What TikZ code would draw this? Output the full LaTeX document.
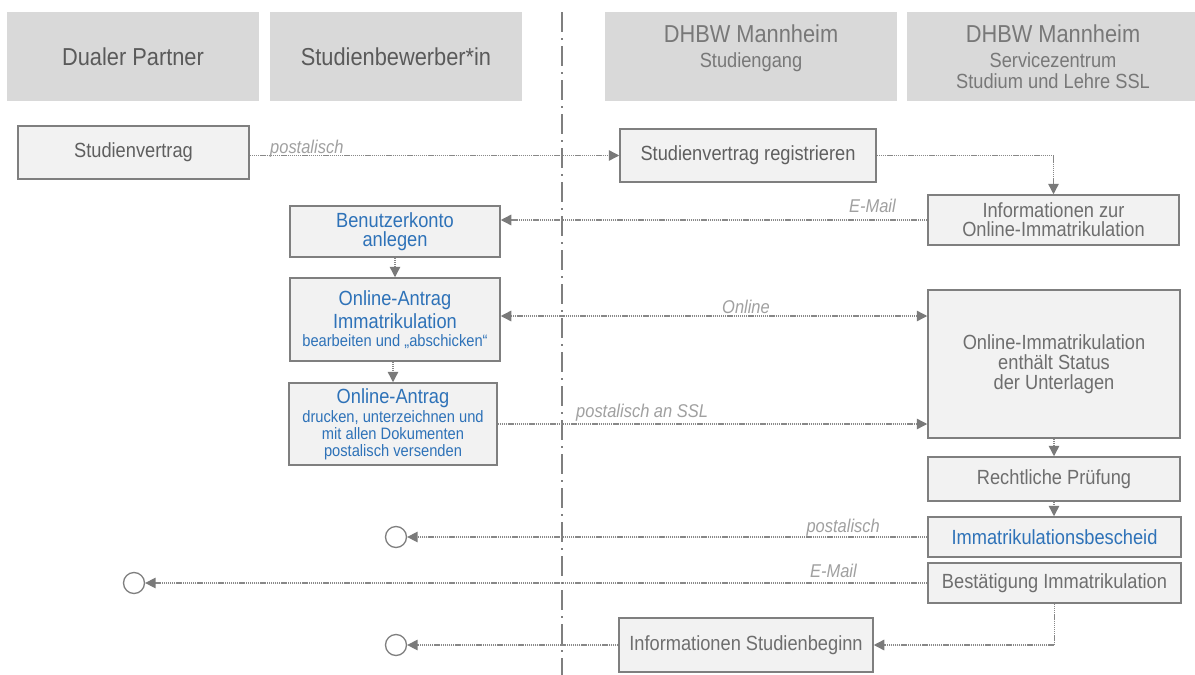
\documentclass[tikz,border=0pt]{standalone}
\usepackage{fontspec}
\setmainfont{Liberation Sans}[FakeStretch=0.89]
\usetikzlibrary{arrows.meta}
\definecolor{hdrfill}{HTML}{D9D9D9}
\definecolor{hdrtxt}{HTML}{5A5A5A}
\definecolor{hdrtxtb}{HTML}{787878}
\definecolor{boxfill}{HTML}{F2F2F2}
\definecolor{boxline}{HTML}{7F7F7F}
\definecolor{boxtxt}{HTML}{5F5F5F}
\definecolor{boxtxtb}{HTML}{6E6E6E}
\definecolor{bluetxt}{HTML}{2E72B8}
\definecolor{lbltxt}{HTML}{A0A0A0}
\definecolor{flowcol}{HTML}{888888}
\definecolor{tipcol}{HTML}{7A7A7A}
\newcommand{\fsz}[2]{\fontsize{#1}{#2}\selectfont}
\begin{document}
\begin{tikzpicture}[x=1pt,y=-1pt,
 hdr/.style={fill=hdrfill, inner sep=0pt, align=center, text=hdrtxt, minimum height=89pt},
 proc/.style={draw=boxline, line width=1.5pt, fill=boxfill, inner sep=0pt, align=center, text=boxtxt, font=\fsz{20.5}{19}},
 tip/.tip={Triangle[length=10.5pt,width=10.5pt,color=tipcol]},
 flow/.style={draw=flowcol, line width=1.4pt, dash pattern=on 1.3pt off 0.8pt, -tip},
 lbl/.style={font=\fsz{18.5}{20}\itshape, text=lbltxt, inner sep=0pt},
 endc/.style={circle, draw=boxline, line width=1.3pt, fill=white, minimum size=21pt, inner sep=0pt},
 divider/.style={draw=boxline, line width=2pt, dash pattern=on 20pt off 6pt on 2pt off 6pt}
]
\fill[white] (0,0) rectangle (1195,675);
\useasboundingbox (0,0) rectangle (1195,675);

% headers
\node[hdr, minimum width=252pt, font=\fsz{24.5}{28}] (hdp) at (133,56.5) {Dualer Partner};
\node[hdr, minimum width=252pt, font=\fsz{24.5}{28}] (hsb) at (396,56.5) {Studienbewerber*in};
\node[hdr, text=hdrtxtb, minimum width=292pt, font=\fsz{20.5}{21}] (hsg) at (751,56.5)
  {{\fsz{24.5}{28}DHBW Mannheim}\\[3.5pt]Studiengang\\ \mbox{}};
\node[hdr, text=hdrtxtb, minimum width=292pt, font=\fsz{20.5}{21}] (hssl) at (1053,56.5)
  {{\fsz{24.5}{28}DHBW Mannheim}\\[3.5pt]Servicezentrum\\Studium und Lehre SSL};

% divider
\coordinate (dtop) at (562,12);
\coordinate (dbot) at (562,675);
\draw[divider] (dtop) -- (dbot);

% boxes
\node[proc, minimum width=231pt, minimum height=53pt] (sv) at (133.5,152.5) {Studienvertrag};
\node[proc, minimum width=256pt, minimum height=53pt] (svr) at (748,155.5) {Studienvertrag registrieren};
\node[proc, text=boxtxtb, minimum width=251pt, minimum height=50pt] (info) at (1053.5,220) {Informationen zur\\Online-Immatrikulation};
\node[proc, text=bluetxt, minimum width=210pt, minimum height=51pt] (bk) at (395,231.5) {Benutzerkonto\\anlegen};
\node[proc, text=bluetxt, minimum width=210pt, minimum height=83pt, font=\fsz{20.5}{23}] (oa1) at (395,319.5)
  {Online-Antrag\\Immatrikulation\\[-5.4pt]{\fsz{16.5}{17}bearbeiten und „abschicken“}};
\node[proc, text=bluetxt, minimum width=208pt, minimum height=82pt, font=\fsz{16.5}{17}] (oa2) at (393,424)
  {{\fsz{20.5}{23}Online-Antrag}\\[1.6pt]drucken, unterzeichnen und\\mit allen Dokumenten\\postalisch versenden};
\node[proc, text=boxtxtb, minimum width=252pt, minimum height=148pt, font=\fsz{20.5}{20}] (big) at (1054,364)
  {Online-Immatrikulation\\enthält Status\\der Unterlagen};
\node[proc, text=boxtxtb, minimum width=252pt, minimum height=44pt] (rp) at (1054,479) {Rechtliche Prüfung};
\node[proc, text=bluetxt, minimum width=253pt, minimum height=40pt] (ib) at (1054.5,537) {Immatrikulationsbescheid};
\node[proc, text=boxtxtb, minimum width=253pt, minimum height=40pt] (bi) at (1054.5,583) {Bestätigung Immatrikulation};
\node[proc, text=boxtxtb, minimum width=254pt, minimum height=54pt] (isb) at (746,645) {Informationen Studienbeginn};

% end circles
\node[endc] (c1) at (396,537) {};
\node[endc] (c2) at (134,583) {};
\node[endc] (c3) at (396,645) {};

% connectors
\draw[flow] (sv.east |- svr.west) -- (svr.west);
\node[lbl, anchor=base west] (l1) at (270,153) {postalisch};

\draw[flow] (svr.east) -| (info.north);

\draw[flow] (info.west) -- (bk.east |- info.west);
\node[lbl, anchor=base east] (l2) at (896,212) {E-Mail};

\draw[flow] (bk.south) -- (oa1.north);
\draw[flow] (oa1.south -| oa2.north) -- (oa2.north);

\coordinate (o1) at ([yshift=3.5pt]oa1.east);
\draw[flow, tip-tip] (o1) -- (o1 -| big.west);
\node[lbl, anchor=base] (l3) at (746,313) {Online};

\draw[flow] (oa2.east) -- (oa2.east -| big.west);
\node[lbl, anchor=base west] (l4) at (576,417) {postalisch an SSL};

\draw[flow] (big.south) -- (rp.north);
\draw[flow] (rp.south) -- (rp.south |- ib.north);

\draw[flow] (ib.west) -- (c1.east);
\node[lbl, anchor=base east] (l5) at (880,532) {postalisch};

\draw[flow] (bi.west) -- (c2.east);
\node[lbl, anchor=base east] (l6) at (857,577) {E-Mail};

\draw[flow] (bi.south) |- (isb.east);
\draw[flow] (isb.west) -- (c3.east);
\end{tikzpicture}
\end{document}
